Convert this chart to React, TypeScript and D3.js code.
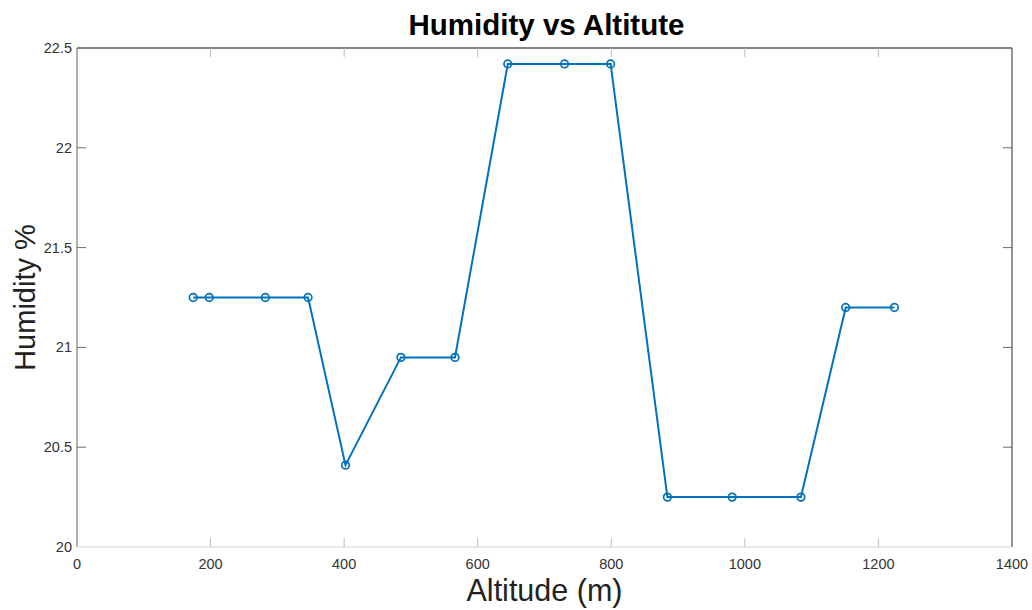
import React from "react";
import * as d3 from "d3";

// Altitude (m) and relative humidity (%) readings
const altitude = [174, 198, 282, 346, 402, 485, 566, 645, 730, 799, 884, 981, 1084, 1151, 1224];
const humidity = [21.25, 21.25, 21.25, 21.25, 20.41, 20.95, 20.95, 22.42, 22.42, 22.42, 20.25, 20.25, 20.25, 21.2, 21.2];

const xTicks = [0, 200, 400, 600, 800, 1000, 1200, 1400];
const yTicks = [20, 20.5, 21, 21.5, 22, 22.5];

const W = 1032;
const H = 610;
const left = 77;
const right = 1012;
const top = 48;
const bottom = 547;

export default function App() {
  const x = d3.scaleLinear().domain([0, 1400]).range([left, right]);
  const y = d3.scaleLinear().domain([20, 22.5]).range([bottom, top]);
  const pts = altitude.map((a, i) => [a, humidity[i]] as [number, number]);
  const line = d3
    .line<[number, number]>()
    .x((d) => x(d[0]))
    .y((d) => y(d[1]));
  const font = "Liberation Sans, Arial, sans-serif";
  const tick = 9;
  const lineColor = "#0072BD";

  return (
    <svg
      width={W}
      height={H}
      style={{ position: "absolute", left: 0, top: 0, background: "#fff" }}
      fontFamily={font}
    >
      <rect x={0} y={0} width={W} height={H} fill="#fff" />
      {/* axes box */}
      <line x1={left} x2={right} y1={top} y2={top} stroke="#5a5a5a" strokeWidth={1.3} />
      <line x1={right} x2={right} y1={top} y2={bottom} stroke="#5a5a5a" strokeWidth={1.3} />
      <line x1={left} x2={left} y1={top} y2={bottom} stroke="#7a7a7a" strokeWidth={1.2} />
      <line x1={left} x2={right} y1={bottom} y2={bottom} stroke="#d6d6d6" strokeWidth={1.2} />

      {/* x ticks (bottom and top) */}
      {xTicks.map((t) => (
        <g key={"x" + t}>
          {t > 0 && t < 1400 && (
            <>
              <line x1={x(t)} x2={x(t)} y1={bottom} y2={bottom - tick} stroke="#bdbdbd" strokeWidth={1} />
              <line x1={x(t)} x2={x(t)} y1={top} y2={top + tick} stroke="#bdbdbd" strokeWidth={1} />
            </>
          )}
          <text x={x(t)} y={bottom + 22} textAnchor="middle" fontSize={14.5} fill="#333">
            {t}
          </text>
        </g>
      ))}

      {/* y ticks (left and right) */}
      {yTicks.map((t) => (
        <g key={"y" + t}>
          {t > 20 && t < 22.5 && (
            <>
              <line x1={left} x2={left + tick} y1={y(t)} y2={y(t)} stroke="#6a6a6a" strokeWidth={1} />
              <line x1={right} x2={right - tick} y1={y(t)} y2={y(t)} stroke="#6a6a6a" strokeWidth={1} />
            </>
          )}
          <text x={left - 5} y={y(t) + 5} textAnchor="end" fontSize={14.5} fill="#333">
            {t}
          </text>
        </g>
      ))}

      {/* data */}
      <path d={line(pts) ?? ""} fill="none" stroke={lineColor} strokeWidth={2} />
      {pts.map((p, i) => (
        <circle
          key={i}
          cx={x(p[0])}
          cy={y(p[1])}
          r={3.8}
          fill="none"
          stroke={lineColor}
          strokeWidth={1.7}
        />
      ))}

      {/* title and axis labels */}
      <text
        x={(left + right) / 2 + 2}
        y={35}
        textAnchor="middle"
        fontSize={29.5}
        fontWeight="bold"
        fill="#000"
      >
        Humidity vs Altitute
      </text>
      <text x={(left + right) / 2} y={601} textAnchor="middle" fontSize={30.5} fill="#222">
        Altitude (m)
      </text>
      <text
        transform={`translate(35, ${(top + bottom) / 2}) rotate(-90)`}
        textAnchor="middle"
        fontSize={29}
        fill="#222"
      >
        Humidity %
      </text>
    </svg>
  );
}
